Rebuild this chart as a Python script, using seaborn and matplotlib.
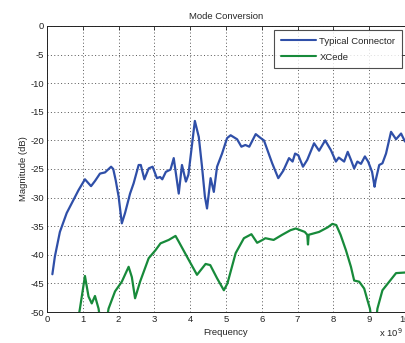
import numpy as np
import pandas as pd
import matplotlib
matplotlib.use("Agg")
import matplotlib.pyplot as plt
import seaborn as sns
from matplotlib.ticker import FuncFormatter, MultipleLocator

# Frequency in units of 1e9 Hz, magnitude in dB
typ_f = [0.15, 0.22, 0.36, 0.55, 0.74, 0.88, 1.06, 1.23, 1.34, 1.48, 1.62, 1.79, 1.85, 1.92, 2.0,
         2.09, 2.18, 2.32, 2.42, 2.56, 2.62, 2.72, 2.84, 2.95, 3.07, 3.16, 3.22, 3.32, 3.45, 3.54,
         3.68, 3.77, 3.88, 3.95, 4.13, 4.24, 4.33, 4.41, 4.47, 4.57, 4.66, 4.75, 4.89, 5.03, 5.13,
         5.31, 5.43, 5.54, 5.65, 5.83, 5.97, 6.06, 6.29, 6.46, 6.6, 6.76, 6.86, 6.93, 7.02, 7.15,
         7.27, 7.46, 7.6, 7.77, 7.93, 8.07, 8.15, 8.3, 8.4, 8.49, 8.58, 8.67, 8.77, 8.88, 8.97,
         9.08, 9.15, 9.18, 9.28, 9.37, 9.47, 9.61, 9.75, 9.89, 10.0]
typ_db = [-43.4, -40.3, -36.0, -32.7, -30.4, -28.7, -26.8, -28.0, -27.1, -25.8, -25.6, -24.6, -25.0, -27.0, -29.8,
          -34.5, -32.7, -29.3, -27.5, -24.3, -24.3, -26.8, -24.9, -24.6, -26.6, -26.4, -26.8, -25.5, -25.1, -23.1,
          -29.3, -24.3, -27.2, -26.0, -16.6, -19.4, -24.6, -29.8, -31.9, -26.6, -29.0, -24.6, -22.3, -19.6, -19.1,
          -19.8, -21.1, -20.8, -21.1, -18.9, -19.6, -20.0, -24.0, -26.6, -25.3, -23.1, -23.7, -22.3, -22.6, -24.6,
          -23.4, -20.5, -21.8, -20.0, -21.7, -23.7, -23.0, -23.7, -22.0, -23.4, -24.9, -23.7, -24.1, -22.8, -23.7,
          -25.5, -28.1, -27.0, -24.3, -24.0, -22.3, -18.5, -19.8, -18.8, -20.2]

xc_f = [0.85, 0.92, 1.06, 1.16, 1.25, 1.34, 1.44, 1.5, 1.65, 1.72, 1.9, 2.09, 2.28, 2.37, 2.46,
        2.6, 2.84, 3.03, 3.17, 3.4, 3.59, 3.68, 3.96, 4.19, 4.43, 4.56, 4.75, 4.94, 5.04, 5.27,
        5.5, 5.71, 5.87, 6.02, 6.1, 6.33, 6.57, 6.8, 6.95, 7.2, 7.27, 7.29, 7.31, 7.6, 7.84,
        7.97, 8.08, 8.2, 8.35, 8.49, 8.58, 8.72, 8.86, 8.95, 9.02, 9.08, 9.18, 9.23, 9.37, 9.56,
        9.75, 10.0]
xc_db = [-52.0, -49.4, -43.7, -47.3, -48.5, -47.2, -49.4, -52.0, -52.0, -49.4, -46.4, -44.7, -42.1, -43.9, -47.6,
         -44.7, -40.6, -39.2, -38.0, -37.4, -36.7, -37.7, -40.9, -43.5, -41.6, -41.8, -44.1, -46.2, -45.0, -39.7,
         -37.1, -36.4, -37.9, -37.4, -37.1, -37.4, -36.5, -35.7, -35.4, -36.0, -36.5, -38.2, -36.5, -36.0, -35.2,
         -34.6, -34.8, -36.5, -39.2, -42.1, -44.5, -44.7, -45.9, -47.9, -49.4, -52.0, -52.0, -49.4, -46.2, -44.7,
         -43.2, -43.1]

series_names = ["Typical Connector", "XCede"]

df = pd.concat([
    pd.DataFrame({"Frequency": np.array(typ_f) * 1e9, "Magnitude": typ_db, "Series": series_names[0]}),
    pd.DataFrame({"Frequency": np.array(xc_f) * 1e9, "Magnitude": xc_db, "Series": series_names[1]}),
])

sns.set_style("white")
plt.rcParams['font.family'] = ['Liberation Sans', 'DejaVu Sans']
plt.rcParams['axes.unicode_minus'] = False

fig = plt.figure(figsize=(4.06, 3.43), dpi=100)
ax = fig.add_axes([47/406, 1 - 312/343, 358/406, 286/343])

sns.lineplot(data=df, x="Frequency", y="Magnitude", hue="Series",
             palette=["#2f4fa8", "#178a3a"], linewidth=1.6, ax=ax, sort=False,
             estimator=None)

ax.set_xlim(0, 10e9)
ax.set_ylim(-50, 0)
ax.xaxis.set_major_locator(MultipleLocator(1e9))
ax.yaxis.set_major_locator(MultipleLocator(5))
ax.xaxis.set_major_formatter(FuncFormatter(lambda v, p: f"{v/1e9:g}"))
ax.grid(True, color="#555555", linestyle=(0, (1, 2.5)), linewidth=0.7)
ax.tick_params(direction="in", length=3, labelsize=6.8, width=0.6, colors="#222222",
               top=True, right=True, pad=2)
for s in ax.spines.values():
    s.set_color("#222222")
    s.set_linewidth(0.7)

ax.set_title("Mode Conversion", fontsize=6.8, pad=5)
ax.set_xlabel("Frequency", fontsize=6.8, labelpad=3)
ax.set_ylabel("Magnitude (dB)", fontsize=6.8, labelpad=2)
fig.text(403/406, 4/343, "x 10$^9$", ha="right", va="bottom", fontsize=6.8)

leg = ax.legend(loc="upper right", bbox_to_anchor=(402/406, 1 - 30/343),
                bbox_transform=fig.transFigure, borderaxespad=0,
                fontsize=6.8, frameon=True, fancybox=False,
                handlelength=3.7, handletextpad=0.4,
                borderpad=0.7, labelspacing=0.75)
leg.get_frame().set_edgecolor("#222222")
leg.get_frame().set_linewidth(0.8)
for line in leg.get_lines():
    line.set_linewidth(1.5)

fig.savefig("out.png", dpi=100)
